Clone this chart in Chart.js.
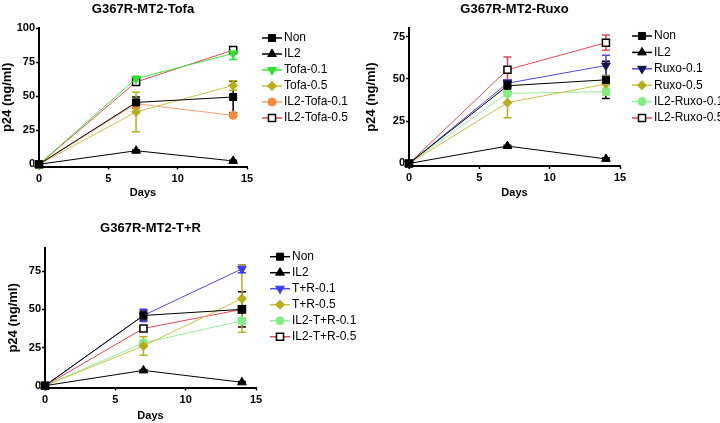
<!DOCTYPE html>
<html>
<head>
<meta charset="utf-8">
<script src="https://cdn.jsdelivr.net/npm/chart.js@4.4.0/dist/chart.umd.min.js"></script>
<style>
body { margin: 0; background: #fff; width: 720px; height: 423px; overflow: hidden; position: relative; }
canvas { position: absolute; }
</style>
</head>
<body>
<canvas id="c-tofa" width="360" height="205" style="left:0;top:0"></canvas>
<canvas id="c-ruxo" width="360" height="205" style="left:360px;top:0"></canvas>
<canvas id="c-tr" width="360" height="213" style="left:0;top:210px"></canvas>
<script>
// shared x values (days) and ticks
const days = [0, 7, 14];
const xTicks = [0, 5, 10, 15];

// Tofa panel
const tofaLabels = ['Non', 'IL2', 'Tofa-0.1', 'Tofa-0.5', 'IL2-Tofa-0.1', 'IL2-Tofa-0.5'];
const tofaValues = [
    [0, 45.5, 49.5],
    [0, 10, 2.5],
    [0, 63, 81.5],
    [0, 38.5, 58],
    [0, 44.5, 36],
    [0, 60.5, 84]
];
const tofaErrors = [
    [0, 4, 11.5],
    [0, 0.5, 0.5],
    [0, 1.5, 4.5],
    [0, 14.5, 3.5],
    [0, 3, 1],
    [0, 1.5, 1]
];
const tofaYTicks = [0, 25, 50, 75, 100];

// Ruxo panel
const ruxoLabels = ['Non', 'IL2', 'Ruxo-0.1', 'Ruxo-0.5', 'IL2-Ruxo-0.1', 'IL2-Ruxo-0.5'];
const ruxoValues = [
    [0, 46, 49.5],
    [0, 10.3, 2.7],
    [0, 47.5, 58],
    [0, 36, 47],
    [0, 41.5, 42.5],
    [0, 55.5, 71.5]
];
const ruxoErrors = [
    [0, 3.5, 11],
    [0, 0.5, 0.5],
    [0, 2, 6],
    [0, 9, 5],
    [0, 1.5, 2],
    [0, 7.5, 4.5]
];
const ruxoYTicks = [0, 25, 50, 75];

// T+R panel
const trLabels = ['Non', 'IL2', 'T+R-0.1', 'T+R-0.5', 'IL2-T+R-0.1', 'IL2-T+R-0.5'];
const trValues = [
    [0, 46, 50],
    [0, 10, 2.2],
    [0, 46, 76.5],
    [0, 26, 57],
    [0, 28, 42.5],
    [0, 37.5, 50]
];
const trErrors = [
    [0, 3, 11.5],
    [0, 0.5, 0.5],
    [0, 4, 2.5],
    [0, 6, 22],
    [0, 2, 2],
    [0, 1, 1]
];
const trYTicks = [0, 25, 50, 75];

const FONT = '"Liberation Sans", Arial, sans-serif';
Chart.defaults.font.family = FONT;
Chart.defaults.color = '#000';

// marker / line styles
const sNon = { line: '#000', fill: '#000', edge: '#000', err: '#000', shape: 'rect', rot: 0, r: 5 };
const sIL2 = { line: '#000', fill: '#000', edge: '#000', err: '#000', shape: 'triangle', rot: 0, r: 5 };
const sGreen = { line: '#3aea3a', fill: '#2ee02e', edge: '#2ee02e', err: '#2ee02e', shape: 'triangle', rot: 180, r: 5 };
const sOlive = { line: '#c9c24a', fill: '#b5ad1c', edge: '#b5ad1c', err: '#b5ad1c', shape: 'rectRot', rot: 0, r: 4.5 };
const sOrange = { line: '#f7a06a', fill: '#f68b3c', edge: '#f68b3c', err: '#f68b3c', shape: 'circle', rot: 0, r: 4 };
const sOpen = { line: '#e8474f', fill: '#fff', edge: '#000', err: '#e8474f', shape: 'rect', rot: 0, r: 5 };
const sBlueDark = { line: '#4a4aee', fill: '#101050', edge: '#101050', err: '#4a4aee', shape: 'triangle', rot: 180, r: 5 };
const sBlue = { line: '#4a4aee', fill: '#3c3cf0', edge: '#3c3cf0', err: '#3c3cf0', shape: 'triangle', rot: 180, r: 5 };
const sLight = { line: '#96ee96', fill: '#84ec84', edge: '#84ec84', err: '#84ec84', shape: 'circle', rot: 0, r: 4 };

const errorBars = {
    id: 'errorBars',
    beforeDatasetsDraw(chart) {
        const { ctx, scales: { x, y } } = chart;
        ctx.save();
        ctx.lineWidth = 1.5;
        chart.data.datasets.forEach(ds => {
            ctx.strokeStyle = ds.errColor;
            ds.data.forEach((p, i) => {
                const e = ds.errors[i];
                if (!e) return;
                const px = x.getPixelForValue(p.x);
                const hi = y.getPixelForValue(p.y + e);
                const lo = y.getPixelForValue(p.y - e);
                ctx.beginPath();
                ctx.moveTo(px, hi); ctx.lineTo(px, lo);
                ctx.moveTo(px - 4, hi); ctx.lineTo(px + 4, hi);
                ctx.moveTo(px - 4, lo); ctx.lineTo(px + 4, lo);
                ctx.stroke();
            });
        });
        ctx.restore();
    }
};

const sideLegend = {
    id: 'sideLegend',
    afterDraw(chart, args, o) {
        const ctx = chart.ctx;
        ctx.save();
        ctx.font = '12px ' + FONT;
        ctx.textBaseline = 'middle';
        chart.data.datasets.forEach((ds, i) => {
            const y = o.top + i * o.step;
            ctx.strokeStyle = ds.borderColor;
            ctx.lineWidth = 1.5;
            ctx.beginPath();
            ctx.moveTo(o.left, y);
            ctx.lineTo(o.left + o.len, y);
            ctx.stroke();
            ctx.fillStyle = ds.pointBackgroundColor;
            ctx.strokeStyle = ds.pointBorderColor;
            ctx.lineWidth = ds.pointBorderWidth;
            Chart.helpers.drawPoint(ctx, {
                pointStyle: ds.pointStyle, rotation: ds.pointRotation,
                radius: ds.pointRadius, borderWidth: ds.pointBorderWidth
            }, o.left + o.len / 2, y);
            ctx.fillStyle = '#000';
            ctx.fillText(ds.label, o.left + o.len + 2, y);
        });
        ctx.restore();
    }
};

function makeChart(id, title, labels, values, errors, styles, yTicks, yMax, lay) {
    const datasets = labels.map((label, i) => {
        const s = styles[i];
        return {
            label,
            data: days.map((d, j) => ({ x: d, y: values[i][j] })),
            errors: errors[i],
            errColor: s.err,
            borderColor: s.line,
            borderWidth: 1,
            pointStyle: s.shape,
            pointRotation: s.rot,
            pointRadius: s.r,
            pointBackgroundColor: s.fill,
            pointBorderColor: s.edge,
            pointBorderWidth: s.fill === '#fff' ? 1.5 : 1,
            clip: false,
            tension: 0
        };
    });
    return new Chart(document.getElementById(id), {
        type: 'line',
        data: { datasets },
        plugins: [errorBars, sideLegend],
        options: {
            responsive: false,
            animation: false,
            layout: { padding: { left: 0, right: lay.right, top: 0, bottom: 0 } },
            plugins: {
                legend: { display: false },
                tooltip: { enabled: false },
                title: {
                    display: true, text: title, fullSize: false,
                    font: { size: 13, weight: 'bold' }, color: '#000',
                    padding: { top: lay.titleTop, bottom: lay.titleBottom }
                },
                sideLegend: lay.legend
            },
            scales: {
                x: {
                    type: 'linear', min: 0, max: 15,
                    afterBuildTicks: s => { s.ticks = xTicks.map(v => ({ value: v })); },
                    afterFit: s => { s.height = lay.xHeight; },
                    border: { color: '#000', width: 2 },
                    grid: { drawOnChartArea: false, color: '#000', tickLength: 3, tickWidth: 1.5 },
                    ticks: { color: '#000', font: { size: 11, weight: 'bold' }, padding: 2.5, maxRotation: 0 },
                    title: { display: true, text: 'Days', color: '#000', font: { size: 11, weight: 'bold' }, padding: { top: 0, bottom: lay.daysPad } }
                },
                y: {
                    type: 'linear', min: lay.yMin, max: yMax,
                    afterBuildTicks: s => { s.ticks = yTicks.map(v => ({ value: v })); },
                    afterFit: s => { s.width = lay.yWidth; },
                    border: { color: '#000', width: 2 },
                    grid: { drawOnChartArea: false, color: '#000', tickLength: 3, tickWidth: 1.5 },
                    ticks: { color: '#000', font: { size: 11, weight: 'bold' }, padding: 1 },
                    title: { display: true, text: 'p24 (ng/ml)', color: '#000', font: { size: 13, weight: 'bold' }, padding: { top: lay.yTitlePad, bottom: 0 } }
                }
            }
        }
    });
}

makeChart('c-tofa', 'G367R-MT2-Tofa', tofaLabels, tofaValues, tofaErrors,
    [sNon, sIL2, sGreen, sOlive, sOrange, sOpen], tofaYTicks, 100,
    { right: 113, yWidth: 39, yMin: -1.6, xHeight: 38.5, titleTop: 1.5, titleBottom: 11.2, daysPad: 5, yTitlePad: 0,
      legend: { left: 262, top: 38, step: 16, len: 20 } });

makeChart('c-ruxo', 'G367R-MT2-Ruxo', ruxoLabels, ruxoValues, ruxoErrors,
    [sNon, sIL2, sBlueDark, sOlive, sLight, sOpen], ruxoYTicks, 80,
    { right: 100, yWidth: 49, yMin: -1.5, xHeight: 39, titleTop: 1.5, titleBottom: 11.2, daysPad: 5, yTitlePad: 4,
      legend: { left: 272, top: 36, step: 16.4, len: 20 } });

makeChart('c-tr', 'G367R-MT2-T+R', trLabels, trValues, trErrors,
    [sNon, sIL2, sBlue, sOlive, sLight, sOpen], trYTicks, 90,
    { right: 104, yWidth: 45, yMin: -1.2, xHeight: 35.5, titleTop: 10.5, titleBottom: 12.2, daysPad: 0.7, yTitlePad: 6,
      legend: { left: 270, top: 46.7, step: 16, len: 20 } });
</script>
</body>
</html>
